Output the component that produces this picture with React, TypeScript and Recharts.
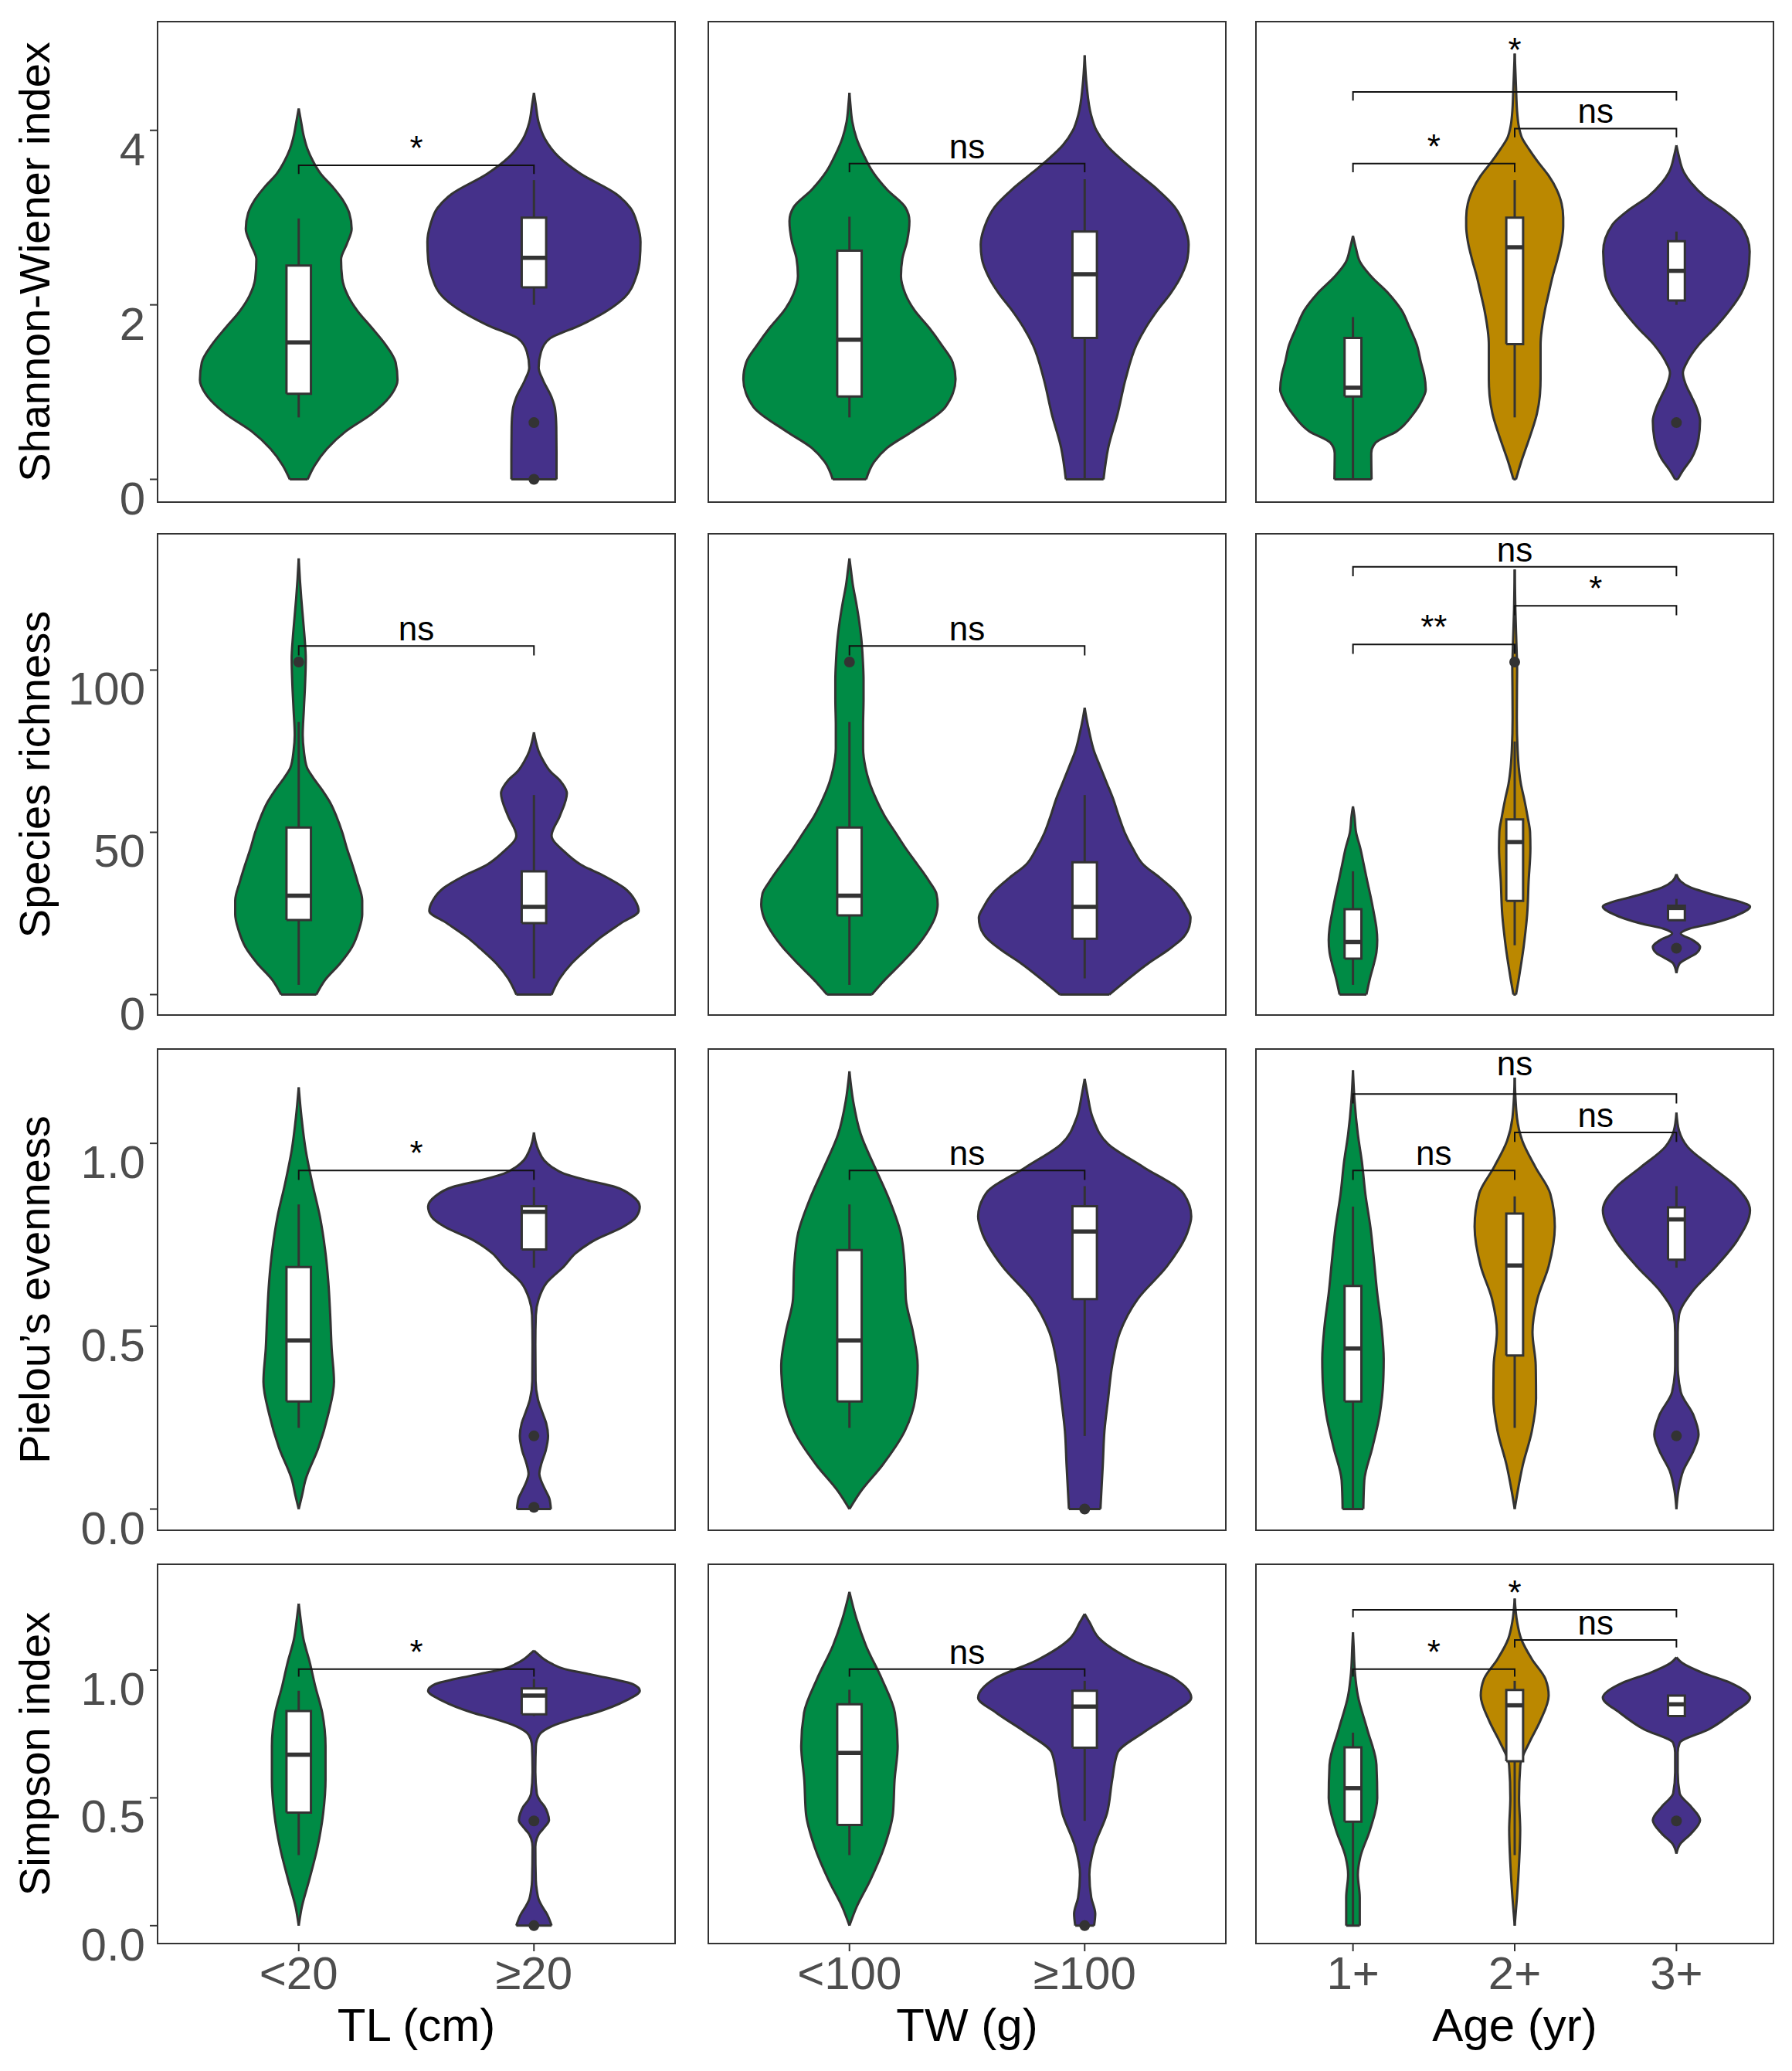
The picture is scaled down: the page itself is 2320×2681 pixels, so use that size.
import React from "react";
import { ComposedChart, Area, Line, Scatter, XAxis, YAxis, ReferenceArea } from "recharts";

type Prof = [number, number][]; // [value, half width in category units]
type Box = [number, number, number, number, number]; // lo, q1, median, q3, hi
type Bracket = { a: number; b: number; y: number; t: string; ly?: number };

const GREEN = "#008B45";
const GOLD = "#BB8800";
const PURPLE = "#45318A";
const INK = "#333333";
const TXT = "#4D4D4D";
const FONT = "'Liberation Sans', Arial, Helvetica, sans-serif";

// categories and titles
const TL_CATS = ["<20", "\u226520"];
const TW_CATS = ["<100", "\u2265100"];
const AGE_CATS = ["1+", "2+", "3+"];
const X_TITLES = ["TL (cm)", "TW (g)", "Age (yr)"];
const Y_TITLES = ["Shannon-Wiener index", "Species richness", "Pielou\u2019s evenness", "Simpson index"];

const SH_TICKS = [0, 2, 4];
const SH_TICK_LABELS = ["0", "2", "4"];
const SR_TICKS = [0, 50, 100];
const SR_TICK_LABELS = ["0", "50", "100"];
const PE_TICKS = [0, 0.5, 1];
const PE_TICK_LABELS = ["0.0", "0.5", "1.0"];
const SI_TICKS = [0, 0.5, 1];
const SI_TICK_LABELS = ["0.0", "0.5", "1.0"];

// ---------- Shannon-Wiener ----------
const SH_TL_LT: Prof = [[0,0.038],[0.16,0.068],[0.35,0.12],[0.55,0.2],[0.75,0.31],[0.94,0.385],[1.14,0.42],[1.34,0.412],[1.54,0.37],[1.74,0.31],[1.93,0.25],[2.1,0.21],[2.3,0.185],[2.52,0.18],[2.7,0.205],[2.87,0.225],[3.05,0.215],[3.19,0.19],[3.35,0.145],[3.5,0.094],[3.65,0.06],[3.78,0.038],[3.95,0.02],[4.1,0.01],[4.25,0]];
const SH_TL_GE: Prof = [[0,0.096],[0.3,0.096],[0.6,0.095],[0.8,0.09],[0.94,0.075],[1.14,0.038],[1.28,0.02],[1.46,0.03],[1.61,0.066],[1.77,0.2],[1.93,0.31],[2.09,0.387],[2.32,0.434],[2.52,0.45],[2.72,0.453],[2.92,0.44],[3.11,0.41],[3.27,0.35],[3.5,0.2],[3.7,0.104],[3.9,0.047],[4.09,0.02],[4.29,0.008],[4.43,0]];
const SH_TW_LT: Prof = [[0,0.071],[0.2,0.105],[0.36,0.16],[0.55,0.268],[0.83,0.408],[1.15,0.451],[1.34,0.439],[1.54,0.392],[1.74,0.338],[1.94,0.276],[2.13,0.237],[2.33,0.219],[2.53,0.225],[2.73,0.245],[2.96,0.255],[3.12,0.237],[3.32,0.16],[3.52,0.1],[3.72,0.06],[3.91,0.03],[4.1,0.012],[4.3,0.004],[4.43,0]];
const SH_TW_GE: Prof = [[0,0.08],[0.36,0.1],[0.75,0.14],[1.15,0.174],[1.54,0.22],[1.74,0.26],[1.94,0.31],[2.13,0.365],[2.33,0.41],[2.53,0.437],[2.69,0.442],[2.9,0.425],[3.12,0.383],[3.32,0.31],[3.52,0.22],[3.68,0.15],[3.83,0.093],[4.0,0.05],[4.19,0.026],[4.5,0.009],[4.86,0]];
const SH_AGE_1: Prof = [[0,0.115],[0.3,0.113],[0.42,0.14],[0.55,0.27],[0.75,0.373],[0.9,0.425],[1.03,0.45],[1.2,0.44],[1.34,0.42],[1.54,0.395],[1.74,0.35],[1.94,0.3],[2.13,0.22],[2.33,0.11],[2.49,0.044],[2.65,0.018],[2.79,0]];
const SH_AGE_2: Prof = [[0,0.008],[0.2,0.04],[0.36,0.07],[0.55,0.105],[0.75,0.137],[0.95,0.155],[1.15,0.16],[1.54,0.16],[1.94,0.187],[2.13,0.21],[2.33,0.235],[2.53,0.265],[2.73,0.29],[2.9,0.3],[3.0,0.3],[3.16,0.29],[3.32,0.26],[3.48,0.21],[3.64,0.143],[3.78,0.09],[3.91,0.046],[4.05,0.025],[4.19,0.016],[4.5,0.008],[4.88,0]];
const SH_AGE_3: Prof = [[0,0.008],[0.1,0.04],[0.24,0.093],[0.47,0.137],[0.67,0.146],[0.82,0.125],[0.95,0.093],[1.1,0.055],[1.22,0.04],[1.36,0.07],[1.54,0.137],[1.74,0.24],[1.94,0.33],[2.13,0.4],[2.33,0.44],[2.61,0.453],[2.92,0.395],[3.08,0.3],[3.24,0.176],[3.4,0.09],[3.52,0.046],[3.72,0.013],[3.83,0]];

const SH_TL_BOX: Box[] = [[0.71, 0.98, 1.57, 2.45, 2.99], [2.0, 2.2, 2.54, 3.0, 3.43]];
const SH_TW_BOX: Box[] = [[0.71, 0.95, 1.6, 2.62, 3.01], [0, 1.62, 2.35, 2.84, 3.44]];
const SH_AGE_BOX: Box[] = [[0, 0.95, 1.05, 1.62, 1.86], [0.71, 1.55, 2.66, 3.0, 3.43], [2.0, 2.05, 2.39, 2.73, 2.84]];
const SH_TL_OUT = [[], [0.65, 0]];
const SH_TW_OUT = [[], []];
const SH_AGE_OUT = [[], [], [0.65]];
const SH_TL_SIG: Bracket[] = [{ a: 1, b: 2, y: 3.6, t: "*" }];
const SH_TW_SIG: Bracket[] = [{ a: 1, b: 2, y: 3.62, t: "ns" }];
const SH_AGE_SIG: Bracket[] = [
  { a: 1, b: 2, y: 3.62, t: "*" },
  { a: 2, b: 3, y: 4.02, t: "ns" },
  { a: 1, b: 3, y: 4.44, t: "*", ly: 4.785 },
];

// ---------- Species richness ----------
const SR_TL_LT: Prof = [[0,0.075],[4.5,0.112],[9.6,0.176],[14.7,0.227],[19.7,0.255],[24.7,0.27],[29,0.27],[34.8,0.25],[40,0.228],[45,0.205],[50,0.185],[55,0.16],[59,0.135],[63,0.1],[67,0.06],[70,0.035],[75,0.022],[80,0.017],[88,0.022],[95.5,0.027],[103.5,0.03],[110,0.025],[116,0.018],[122,0.011],[128,0.005],[134.4,0]];
const SR_TL_GE: Prof = [[0,0.075],[5,0.11],[9.6,0.16],[14,0.225],[17.7,0.285],[22,0.37],[25.8,0.445],[29,0.43],[32.8,0.385],[36.5,0.3],[40,0.2],[44,0.13],[49,0.075],[55,0.11],[62,0.14],[66,0.11],[69,0.067],[72,0.04],[75,0.02],[78,0.008],[80.8,0]];
const SR_TW_LT: Prof = [[0,0.095],[4.5,0.15],[9.6,0.22],[14.7,0.285],[19.7,0.335],[24,0.365],[27.8,0.375],[31,0.37],[34.8,0.34],[40,0.29],[45,0.24],[50,0.195],[55,0.15],[60,0.115],[65.6,0.084],[70,0.068],[75.8,0.058],[83,0.058],[91,0.06],[97,0.06],[103,0.057],[110,0.05],[115.7,0.04],[121,0.028],[126,0.015],[131,0.006],[134.4,0]];
const SR_TW_GE: Prof = [[0,0.105],[4.5,0.18],[9.6,0.27],[13.5,0.35],[17.7,0.42],[21,0.445],[23.7,0.45],[27,0.43],[31.8,0.385],[36,0.32],[40,0.25],[45,0.205],[50,0.17],[55,0.145],[60.5,0.12],[65,0.095],[70.6,0.064],[75,0.04],[80.8,0.02],[85,0.008],[88.4,0]];
const SR_AGE_1: Prof = [[0,0.083],[5,0.105],[9.6,0.13],[13,0.145],[16.8,0.15],[20.5,0.145],[24.9,0.13],[30,0.11],[35,0.088],[40,0.067],[45,0.046],[50,0.019],[55,0.009],[58,0]];
const SR_AGE_2: Prof = [[0,0.008],[4.5,0.024],[9.5,0.04],[14.6,0.055],[19.6,0.067],[24.7,0.077],[34.8,0.086],[45,0.097],[50,0.095],[55,0.079],[60,0.06],[65,0.038],[70,0.025],[75.2,0.018],[85.4,0.013],[95,0.014],[100.5,0.015],[106,0.012],[110.6,0.009],[118.7,0.004],[131,0]];
const SR_AGE_3: Prof = [[6.6,0],[9.6,0.02],[11.5,0.08],[12.6,0.12],[14.7,0.146],[16.8,0.1],[18.8,0.027],[20.3,0.08],[21.9,0.22],[24.9,0.395],[27.1,0.455],[28.5,0.4],[30,0.285],[31.5,0.18],[33,0.088],[35,0.024],[37.1,0]];

const SR_TL_BOX: Box[] = [[3, 23, 30.5, 51.5, 84], [5, 22, 27, 38, 61.5]];
const SR_TW_BOX: Box[] = [[3, 24.4, 30.5, 51.5, 84], [5, 17.2, 27, 40.8, 61.5]];
const SR_AGE_BOX: Box[] = [[3, 11.1, 16.2, 26.3, 38], [15.2, 28.9, 47, 54, 78], [22.9, 22.9, 26.7, 27.4, 29.5]];
const SR_TL_OUT = [[102.5], []];
const SR_TW_OUT = [[102.5], []];
const SR_AGE_OUT = [[], [102.5], [14.3]];
const SR_TL_SIG: Bracket[] = [{ a: 1, b: 2, y: 107.4, t: "ns" }];
const SR_TW_SIG: Bracket[] = [{ a: 1, b: 2, y: 107.4, t: "ns" }];
const SR_AGE_SIG: Bracket[] = [
  { a: 1, b: 2, y: 107.9, t: "**" },
  { a: 2, b: 3, y: 119.8, t: "*" },
  { a: 1, b: 3, y: 131.8, t: "ns" },
];

// ---------- Pielou's evenness ----------
const PE_TL_LT: Prof = [[0,0],[0.04,0.015],[0.078,0.028],[0.168,0.084],[0.258,0.125],[0.348,0.15],[0.44,0.14],[0.53,0.134],[0.62,0.126],[0.71,0.112],[0.8,0.09],[0.89,0.058],[0.98,0.03],[1.07,0.012],[1.153,0]];
const PE_TL_GE: Prof = [[0,0.072],[0.03,0.065],[0.05,0.05],[0.075,0.032],[0.096,0.023],[0.125,0.032],[0.16,0.05],[0.2,0.06],[0.235,0.052],[0.265,0.035],[0.3,0.017],[0.35,0.007],[0.45,0.006],[0.53,0.008],[0.574,0.02],[0.619,0.054],[0.664,0.128],[0.7,0.178],[0.736,0.26],[0.772,0.38],[0.8,0.436],[0.827,0.45],[0.855,0.42],[0.881,0.345],[0.899,0.228],[0.917,0.128],[0.935,0.077],[0.953,0.044],[0.98,0.02],[1.005,0.007],[1.03,0]];
const PE_TW_LT: Prof = [[0,0],[0.05,0.05],[0.12,0.14],[0.213,0.235],[0.303,0.28],[0.393,0.29],[0.484,0.27],[0.574,0.24],[0.664,0.235],[0.755,0.218],[0.845,0.17],[0.935,0.108],[1.025,0.048],[1.115,0.016],[1.197,0]];
const PE_TW_GE: Prof = [[0,0.067],[0.12,0.077],[0.213,0.084],[0.303,0.1],[0.393,0.117],[0.484,0.15],[0.574,0.225],[0.664,0.35],[0.755,0.436],[0.8,0.453],[0.863,0.42],[0.935,0.25],[0.998,0.1],[1.07,0.034],[1.134,0.012],[1.176,0]];
const PE_AGE_1: Prof = [[0,0.064],[0.078,0.07],[0.168,0.12],[0.258,0.165],[0.348,0.187],[0.41,0.19],[0.5,0.176],[0.59,0.15],[0.68,0.13],[0.77,0.108],[0.86,0.077],[0.95,0.055],[1.025,0.03],[1.115,0.01],[1.2,0]];
const PE_AGE_2: Prof = [[0,0],[0.05,0.019],[0.12,0.05],[0.213,0.106],[0.303,0.132],[0.393,0.13],[0.484,0.11],[0.574,0.14],[0.664,0.21],[0.772,0.248],[0.862,0.22],[0.935,0.128],[1.007,0.047],[1.07,0.014],[1.18,0]];
const PE_AGE_3: Prof = [[0,0],[0.05,0.012],[0.105,0.042],[0.16,0.106],[0.204,0.137],[0.258,0.104],[0.32,0.027],[0.393,0.008],[0.484,0.008],[0.53,0.016],[0.592,0.093],[0.664,0.246],[0.736,0.378],[0.817,0.455],[0.88,0.373],[0.935,0.22],[0.99,0.07],[1.035,0.016],[1.084,0]];

const PE_TL_BOX: Box[] = [[0.222, 0.294, 0.461, 0.662, 0.833], [0.66, 0.71, 0.813, 0.828, 0.88]];
const PE_TW_BOX: Box[] = [[0.222, 0.294, 0.461, 0.708, 0.833], [0.2, 0.574, 0.759, 0.828, 0.883]];
const PE_AGE_BOX: Box[] = [[0, 0.294, 0.439, 0.61, 0.827], [0.222, 0.42, 0.666, 0.808, 0.855], [0.66, 0.682, 0.792, 0.825, 0.883]];
const PE_TL_OUT = [[], [0.2, 0.005]];
const PE_TW_OUT = [[], [0]];
const PE_AGE_OUT = [[], [], [0.2]];
const PE_TL_SIG: Bracket[] = [{ a: 1, b: 2, y: 0.926, t: "*" }];
const PE_TW_SIG: Bracket[] = [{ a: 1, b: 2, y: 0.926, t: "ns" }];
const PE_AGE_SIG: Bracket[] = [
  { a: 1, b: 2, y: 0.926, t: "ns" },
  { a: 2, b: 3, y: 1.03, t: "ns" },
  { a: 1, b: 3, y: 1.135, t: "ns", ly: 1.187 },
];

// ---------- Simpson ----------
const SI_TL_LT: Prof = [[0,0],[0.072,0.013],[0.177,0.044],[0.308,0.08],[0.44,0.104],[0.571,0.114],[0.702,0.114],[0.833,0.1],[0.938,0.07],[1.03,0.047],[1.122,0.02],[1.2,0.008],[1.26,0]];
const SI_TL_GE: Prof = [[0,0.075],[0.046,0.055],[0.075,0.035],[0.098,0.022],[0.14,0.012],[0.177,0.008],[0.308,0.006],[0.34,0.012],[0.36,0.022],[0.385,0.045],[0.413,0.064],[0.44,0.058],[0.466,0.045],[0.49,0.025],[0.518,0.012],[0.6,0.006],[0.7,0.008],[0.728,0.013],[0.755,0.03],[0.78,0.075],[0.81,0.17],[0.833,0.26],[0.88,0.39],[0.919,0.45],[0.945,0.42],[0.965,0.335],[0.985,0.23],[1.004,0.13],[1.025,0.075],[1.043,0.042],[1.06,0.02],[1.076,0]];
const SI_TW_LT: Prof = [[0,0],[0.072,0.03],[0.177,0.088],[0.308,0.148],[0.44,0.185],[0.571,0.192],[0.702,0.205],[0.833,0.193],[0.965,0.138],[1.096,0.07],[1.2,0.03],[1.306,0]];
const SI_TW_GE: Prof = [[0,0.04],[0.046,0.045],[0.11,0.028],[0.2,0.02],[0.308,0.04],[0.44,0.095],[0.571,0.117],[0.677,0.14],[0.756,0.25],[0.833,0.376],[0.892,0.453],[0.965,0.385],[1.04,0.2],[1.122,0.064],[1.188,0.02],[1.22,0]];
const SI_AGE_1: Prof = [[0,0.042],[0.11,0.042],[0.2,0.03],[0.27,0.046],[0.374,0.105],[0.5,0.15],[0.63,0.145],[0.768,0.088],[0.9,0.03],[0.99,0.012],[1.096,0.004],[1.148,0]];
const SI_AGE_2: Prof = [[0,0],[0.11,0.014],[0.243,0.027],[0.374,0.034],[0.5,0.027],[0.63,0.035],[0.72,0.093],[0.8,0.157],[0.9,0.21],[0.965,0.19],[1.043,0.106],[1.122,0.04],[1.188,0.015],[1.28,0]];
const SI_AGE_3: Prof = [[0.282,0],[0.32,0.024],[0.36,0.09],[0.413,0.146],[0.466,0.09],[0.518,0.02],[0.6,0.008],[0.677,0.008],[0.715,0.02],[0.768,0.2],[0.833,0.35],[0.892,0.455],[0.95,0.335],[0.99,0.16],[1.028,0.036],[1.05,0]];

const SI_TL_BOX: Box[] = [[0.276, 0.442, 0.669, 0.84, 0.919], [0.82, 0.827, 0.9, 0.928, 0.965]];
const SI_TW_BOX: Box[] = [[0.276, 0.394, 0.676, 0.866, 0.923], [0.41, 0.696, 0.857, 0.919, 0.958]];
const SI_AGE_BOX: Box[] = [[0, 0.407, 0.538, 0.698, 0.755], [0.276, 0.643, 0.862, 0.922, 0.958], [0.82, 0.82, 0.866, 0.9, 0.9]];
const SI_TL_OUT = [[], [0.41, 0]];
const SI_TW_OUT = [[], [0]];
const SI_AGE_OUT = [[], [], [0.41]];
const SI_TL_SIG: Bracket[] = [{ a: 1, b: 2, y: 1.004, t: "*" }];
const SI_TW_SIG: Bracket[] = [{ a: 1, b: 2, y: 1.004, t: "ns" }];
const SI_AGE_SIG: Bracket[] = [
  { a: 1, b: 2, y: 1.004, t: "*" },
  { a: 2, b: 3, y: 1.118, t: "ns" },
  { a: 1, b: 3, y: 1.236, t: "*" },
];

// layout (px)
const ROW_TOP = [28, 691, 1358, 2025];
const ROW_H = [622, 623, 623, 491];
const COL_LEFT = [204, 917, 1626];
const PANEL_W = 670;
const TOP_PAD = 28; // room above the panel so labels sitting on the frame are not clipped
const BOX_HALF = 0.052;

const ROWS = [
  { domain: [-0.261, 5.246], ticks: SH_TICKS, labels: SH_TICK_LABELS, title: Y_TITLES[0], tip: 0.1 },
  { domain: [-6.3, 142], ticks: SR_TICKS, labels: SR_TICK_LABELS, title: Y_TITLES[1], tip: 2.9 },
  { domain: [-0.058, 1.258], ticks: PE_TICKS, labels: PE_TICK_LABELS, title: Y_TITLES[2], tip: 0.026 },
  { domain: [-0.07, 1.414], ticks: SI_TICKS, labels: SI_TICK_LABELS, title: Y_TITLES[3], tip: 0.03 },
];

const TWO = [GREEN, PURPLE];
const THREE = [GREEN, GOLD, PURPLE];

const PANELS = [
  [
    { violins: [SH_TL_LT, SH_TL_GE], boxes: SH_TL_BOX, out: SH_TL_OUT, sig: SH_TL_SIG, cats: TL_CATS, fills: TWO },
    { violins: [SH_TW_LT, SH_TW_GE], boxes: SH_TW_BOX, out: SH_TW_OUT, sig: SH_TW_SIG, cats: TW_CATS, fills: TWO },
    { violins: [SH_AGE_1, SH_AGE_2, SH_AGE_3], boxes: SH_AGE_BOX, out: SH_AGE_OUT, sig: SH_AGE_SIG, cats: AGE_CATS, fills: THREE },
  ],
  [
    { violins: [SR_TL_LT, SR_TL_GE], boxes: SR_TL_BOX, out: SR_TL_OUT, sig: SR_TL_SIG, cats: TL_CATS, fills: TWO },
    { violins: [SR_TW_LT, SR_TW_GE], boxes: SR_TW_BOX, out: SR_TW_OUT, sig: SR_TW_SIG, cats: TW_CATS, fills: TWO },
    { violins: [SR_AGE_1, SR_AGE_2, SR_AGE_3], boxes: SR_AGE_BOX, out: SR_AGE_OUT, sig: SR_AGE_SIG, cats: AGE_CATS, fills: THREE },
  ],
  [
    { violins: [PE_TL_LT, PE_TL_GE], boxes: PE_TL_BOX, out: PE_TL_OUT, sig: PE_TL_SIG, cats: TL_CATS, fills: TWO },
    { violins: [PE_TW_LT, PE_TW_GE], boxes: PE_TW_BOX, out: PE_TW_OUT, sig: PE_TW_SIG, cats: TW_CATS, fills: TWO },
    { violins: [PE_AGE_1, PE_AGE_2, PE_AGE_3], boxes: PE_AGE_BOX, out: PE_AGE_OUT, sig: PE_AGE_SIG, cats: AGE_CATS, fills: THREE },
  ],
  [
    { violins: [SI_TL_LT, SI_TL_GE], boxes: SI_TL_BOX, out: SI_TL_OUT, sig: SI_TL_SIG, cats: TL_CATS, fills: TWO },
    { violins: [SI_TW_LT, SI_TW_GE], boxes: SI_TW_BOX, out: SI_TW_OUT, sig: SI_TW_SIG, cats: TW_CATS, fills: TWO },
    { violins: [SI_AGE_1, SI_AGE_2, SI_AGE_3], boxes: SI_AGE_BOX, out: SI_AGE_OUT, sig: SI_AGE_SIG, cats: AGE_CATS, fills: THREE },
  ],
];

function YTick(p: any) {
  const i = p.ticks.indexOf(p.payload.value);
  return (
    <text x={p.x - 6} y={p.y + 45} textAnchor="end" fontSize={60} fill={TXT} fontFamily={FONT}>
      {p.labels[i]}
    </text>
  );
}

function XTick(p: any) {
  return (
    <text x={p.x} y={p.y + 49} textAnchor="middle" fontSize={60} fill={TXT} fontFamily={FONT}>
      {p.cats[Math.round(p.payload.value) - 1]}
    </text>
  );
}

const seg = { stroke: INK, strokeWidth: 3, dot: false, activeDot: false, isAnimationActive: false, type: "linear" as const };

function Panel({ r, c }: { r: number; c: number }) {
  const spec = PANELS[r][c];
  const row = ROWS[r];
  const n = spec.cats.length;
  const first = c === 0;
  const last = r === ROWS.length - 1;
  const yaw = first ? COL_LEFT[0] : 20;
  // rows above the last still need room below the plot for the "0" tick label
  const xah = last ? 170 : 55;
  const xDom = [0.4, n + 0.6];

  const violins = spec.violins.map((prof, i) => (
    <Area
      key={`v${i}`}
      data={prof.map(([v, w]) => ({ v, r: [i + 1 - w, i + 1 + w] }))}
      dataKey="r"
      type="monotone"
      fill={spec.fills[i]}
      fillOpacity={1}
      stroke={INK}
      strokeWidth={3}
      isAnimationActive={false}
    />
  ));
  // flat bottom of a violin gets its own outline segment
  const caps = spec.violins
    .map((prof, i) => {
      const [v, w] = prof[0];
      if (w <= 0) return null;
      return <Line key={`cap${i}`} data={[{ v, x: i + 1 - w }, { v, x: i + 1 + w }]} dataKey="x" {...seg} />;
    })
    .filter(Boolean);

  const boxes = spec.boxes.map(([lo, q1, med, q3, hi], i) => {
    const x0 = i + 1 - BOX_HALF;
    const x1 = i + 1 + BOX_HALF;
    const cx = i + 1;
    return [
      <Area
        key={`bf${i}`}
        data={[{ v: q1, r: [x0, x1] }, { v: q3, r: [x0, x1] }]}
        dataKey="r"
        type="linear"
        fill="#ffffff"
        fillOpacity={1}
        stroke="none"
        isAnimationActive={false}
      />,
      <Line key={`wl${i}`} data={[{ v: lo, x: cx }, { v: q1, x: cx }]} dataKey="x" {...seg} />,
      <Line key={`wh${i}`} data={[{ v: q3, x: cx }, { v: hi, x: cx }]} dataKey="x" {...seg} />,
      <Line
        key={`bo${i}`}
        data={[{ v: q1, x: x0 }, { v: q1, x: x1 }, { v: q3, x: x1 }, { v: q3, x: x0 }, { v: q1, x: x0 }]}
        dataKey="x"
        {...seg}
      />,
      <Line key={`md${i}`} data={[{ v: med, x: x0 }, { v: med, x: x1 }]} dataKey="x" {...seg} strokeWidth={5.5} />,
    ];
  });

  const outliers = spec.out.flatMap((vals: number[], i: number) => vals.map((v) => ({ c: i + 1, v })));

  const brackets = spec.sig.map((b: Bracket, i: number) => (
    <Line
      key={`sg${i}`}
      data={[
        { v: b.y - row.tip, x: b.a },
        { v: b.y, x: b.a },
        { v: b.y, x: b.b },
        { v: b.y - row.tip, x: b.b },
      ]}
      dataKey="x"
      {...seg}
      stroke="#111111"
      strokeWidth={2}
    />
  ));
  const sigLabels = spec.sig.map((b: Bracket) => ({ c: (b.a + b.b) / 2, v: b.ly ?? b.y, t: b.t, lifted: b.ly != null }));

  return (
    <div style={{ position: "absolute", left: COL_LEFT[c] - yaw, top: ROW_TOP[r] - TOP_PAD }}>
      <ComposedChart
        layout="vertical"
        width={yaw + PANEL_W + 3}
        height={TOP_PAD + ROW_H[r] + xah}
        margin={{ top: TOP_PAD, right: 3, left: 0, bottom: 0 }}
      >
        <XAxis
          type="number"
          domain={xDom}
          allowDataOverflow
          ticks={spec.cats.map((_: string, i: number) => i + 1)}
          interval={0}
          height={xah}
          axisLine={false}
          tickLine={{ stroke: INK, strokeWidth: 2 }}
          tickSize={10}
          tickMargin={0}
          tick={last ? <XTick cats={spec.cats} /> : false}
          label={
            last
              ? (p: any) => (
                  <text
                    x={p.viewBox.x + p.viewBox.width / 2}
                    y={p.viewBox.y + 126}
                    textAnchor="middle"
                    fontSize={60}
                    fill="#000000"
                    fontFamily={FONT}
                  >
                    {X_TITLES[c]}
                  </text>
                )
              : undefined
          }
        />
        <YAxis
          type="number"
          dataKey="v"
          domain={row.domain}
          allowDataOverflow
          reversed
          ticks={row.ticks}
          interval={0}
          width={yaw}
          axisLine={false}
          tickLine={{ stroke: INK, strokeWidth: 2 }}
          tickSize={10}
          tickMargin={0}
          tick={first ? <YTick ticks={row.ticks} labels={row.labels} /> : false}
          label={
            first
              ? (p: any) => {
                  const cy = p.viewBox.y + p.viewBox.height / 2;
                  return (
                    <text
                      x={64}
                      y={cy}
                      transform={`rotate(-90, 64, ${cy})`}
                      textAnchor="middle"
                      fontSize={56}
                      fill="#000000"
                      fontFamily={FONT}
                    >
                      {row.title}
                    </text>
                  );
                }
              : undefined
          }
        />
        {violins}
        {caps}
        {boxes}
        <Scatter
          data={outliers}
          dataKey="c"
          isAnimationActive={false}
          shape={(p: any) => <circle cx={p.cx} cy={p.cy} r={7} fill={INK} />}
        />
        {brackets}
        <Scatter
          data={sigLabels}
          dataKey="c"
          isAnimationActive={false}
          shape={(p: any) => (
            <text
              x={p.cx}
              y={p.cy - (p.payload.lifted ? 0 : 7)}
              textAnchor="middle"
              fontSize={44}
              fill="#000000"
              fontFamily={FONT}
            >
              {p.payload.t}
            </text>
          )}
        />
        <ReferenceArea
          x1={xDom[0]}
          x2={xDom[1]}
          y1={row.domain[0]}
          y2={row.domain[1]}
          fill="none"
          stroke={INK}
          strokeWidth={2}
          ifOverflow="visible"
        />
      </ComposedChart>
    </div>
  );
}

export default function App() {
  return (
    <div style={{ position: "absolute", left: 0, top: 0, width: 2320, height: 2681, background: "#ffffff" }}>
      {ROWS.map((_, r) => [0, 1, 2].map((c) => <Panel key={`${r}-${c}`} r={r} c={c} />))}
    </div>
  );
}
